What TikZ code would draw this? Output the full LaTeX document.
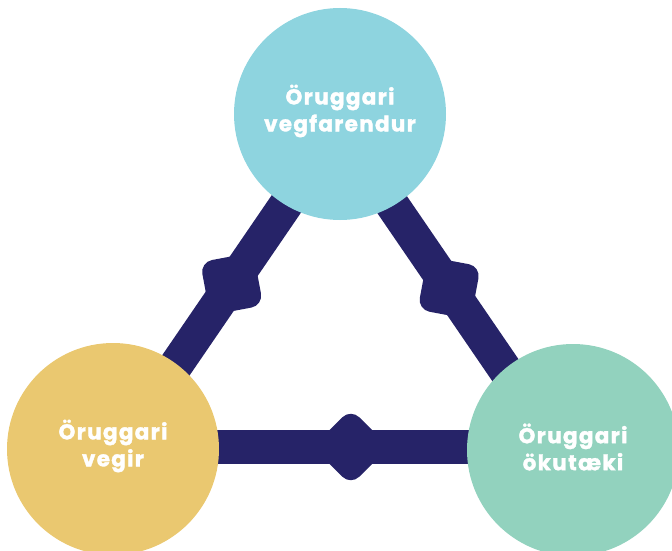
\documentclass[tikz,border=0pt]{standalone}
\usepackage{fontspec}
\setmainfont{Poppins}
\newfontfamily\lblfont{Poppins}[UprightFont={* Bold},FakeBold=1.5,LetterSpace=6]
\definecolor{barc}{HTML}{262368}
\definecolor{topc}{HTML}{8ED4DF}
\definecolor{leftc}{HTML}{EAC870}
\definecolor{rightc}{HTML}{92D2BE}
\begin{document}
\begin{tikzpicture}[x=1pt,y=-1pt,
  bar/.style={draw=barc,line width=34pt},
  bulge/.style={fill=barc,rectangle,minimum size=54pt,inner sep=0pt,rounded corners=12pt,sloped,rotate=45},
  circ/.style={circle,minimum size=212pt,inner sep=0pt},
  lbl/.style={text=white,align=center,inner sep=0pt,
    font=\fontsize{21.5}{27}\lblfont}]
\useasboundingbox (0,0) rectangle (672,551);
\coordinate (A) at (339,127);
\coordinate (L) at (120,447);
\coordinate (R) at (558,447);
\draw[bar] (L) -- (A) node[pos=0.51,bulge] (b1) {};
\draw[bar] (A) -- (R) node[pos=0.503,bulge] (b2) {};
\draw[bar] (L) -- (R) node[pos=0.527,bulge] (b3) {};
\node[circ,fill=topc] (top) at (340,114) {};
\node[circ,fill=leftc] (left) at (113,449) {};
\node[circ,fill=rightc] (right) at (573,450) {};
\node[lbl] (ttop) at ([yshift=3pt]top.center) {Öruggari\\vegfarendur};
\node[lbl] (tleft) at ([yshift=3pt]left.center) {Öruggari\\vegir};
\node[lbl] (tright) at ([yshift=3pt]right.center) {Öruggari\\ökutæki};
\end{tikzpicture}
\end{document}
